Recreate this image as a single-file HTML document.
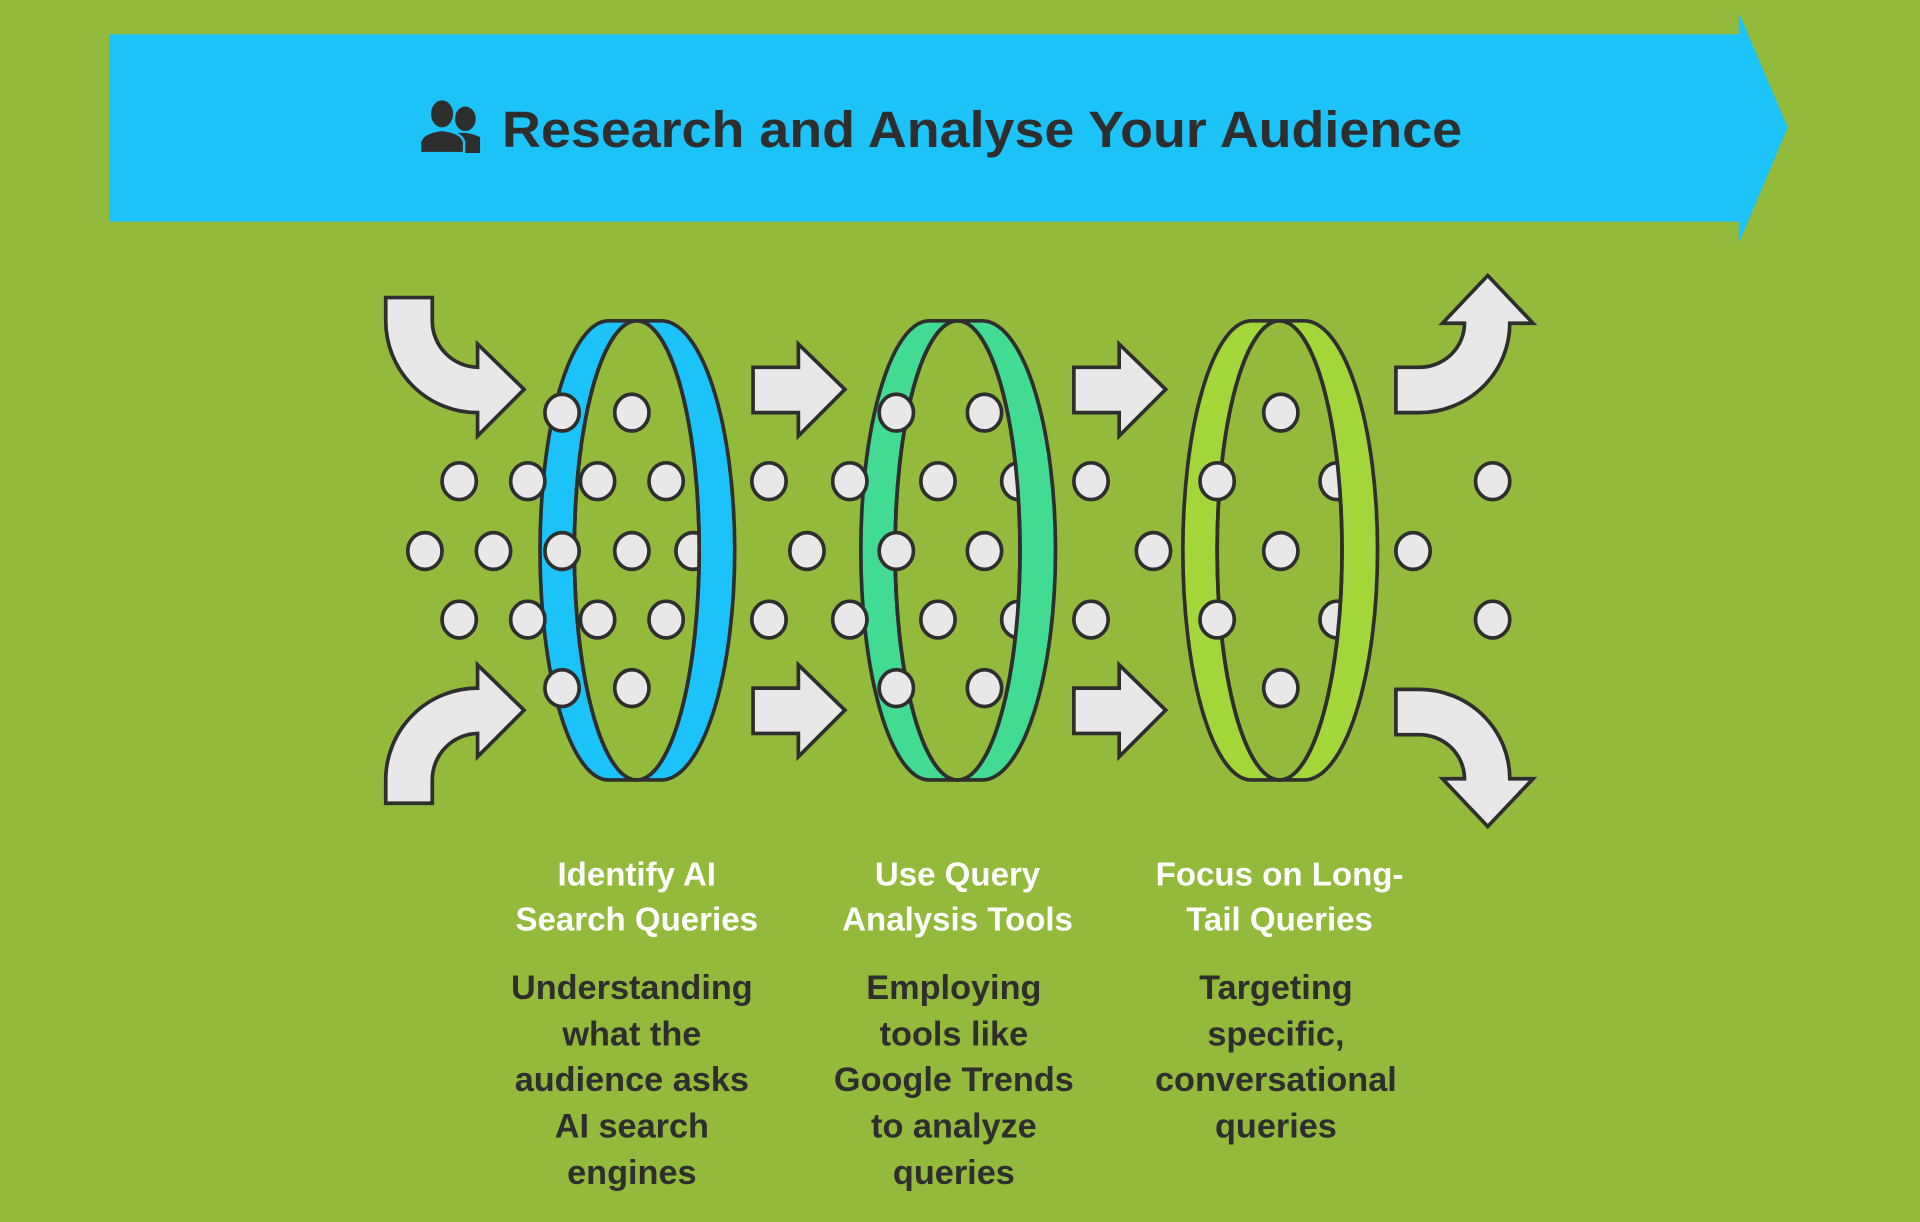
<!DOCTYPE html>
<html><head><meta charset="utf-8"><style>
html,body{margin:0;padding:0;background:#93BA3A;}
svg{display:block;}
text{font-family:"Liberation Sans",Arial,sans-serif;font-weight:bold;}
</style></head><body>
<svg width="1920" height="1222" viewBox="0 0 1568 998" xmlns="http://www.w3.org/2000/svg">
<defs>
<clipPath id="h1"><ellipse cx="520" cy="449.5" rx="51" ry="187.5"/></clipPath>
<clipPath id="h2"><ellipse cx="782" cy="449.5" rx="51" ry="187.5"/></clipPath>
<clipPath id="h3"><ellipse cx="1045" cy="449.5" rx="51" ry="187.5"/></clipPath>
</defs>
<rect width="1568" height="998" fill="#93BA3A"/>
<polygon points="89,28 1420,28 1420,10 1460,104 1420,199 1420,181 89,181" fill="#1BC3F9"/>
<g fill="#2E2E2E">
<ellipse cx="380" cy="97" rx="8.5" ry="10"/>
<path d="M368,110 Q380,106 392,112 L392,125 L372,125 Z"/>
<ellipse cx="361" cy="93" rx="10" ry="12" stroke="#1BC3F9" stroke-width="2"/>
<path d="M343,125 L343,116 Q345,108 361,106 Q377,108 379,116 L379,125 Z" stroke="#1BC3F9" stroke-width="2"/>
</g>
<text x="410" y="120" font-size="42" fill="#2E2E2E" textLength="784" lengthAdjust="spacingAndGlyphs">Research and Analyse Your Audience</text>

<g stroke="#2E2E2E" stroke-width="3">
<path d="M497,262 L540,262 A60,187.5 0 0 1 540,637 L497,637 A56,187.5 0 0 1 497,262 Z" fill="#1BC3F9"/>
<ellipse cx="520" cy="449.5" rx="51" ry="187.5" fill="#93BA3A"/>
<path d="M759,262 L802,262 A60,187.5 0 0 1 802,637 L759,637 A56,187.5 0 0 1 759,262 Z" fill="#41DB93"/>
<ellipse cx="782" cy="449.5" rx="51" ry="187.5" fill="#93BA3A"/>
<path d="M1022,262 L1065,262 A60,187.5 0 0 1 1065,637 L1022,637 A56,187.5 0 0 1 1022,262 Z" fill="#A3D639"/>
<ellipse cx="1045" cy="449.5" rx="51" ry="187.5" fill="#93BA3A"/>
</g>

<g fill="#E8E8E8" stroke="#2E2E2E" stroke-width="3">
<ellipse cx="566" cy="450" rx="14" ry="15" clip-path="url(#h1)"/>
<ellipse cx="832" cy="393" rx="14" ry="15" clip-path="url(#h2)"/>
<ellipse cx="832" cy="506" rx="14" ry="15" clip-path="url(#h2)"/>
<ellipse cx="1092" cy="393" rx="14" ry="15" clip-path="url(#h3)"/>
<ellipse cx="1092" cy="506" rx="14" ry="15" clip-path="url(#h3)"/>
</g>
<g fill="none" stroke="#2E2E2E" stroke-width="3">
<ellipse cx="520" cy="449.5" rx="51" ry="187.5"/>
<ellipse cx="782" cy="449.5" rx="51" ry="187.5"/>
<ellipse cx="1045" cy="449.5" rx="51" ry="187.5"/>
</g>

<g fill="#E8E8E8" stroke="#2E2E2E" stroke-width="3" stroke-linejoin="miter">
<path d="M315,243 L353,243 L353,262 A38,38 0 0 0 390,300 L390,281 L428,318 L390,356 L390,337 A75,75 0 0 1 315,262 Z"/>
<path d="M315,656 L353,656 L353,637 A38,38 0 0 1 390,599 L390,618 L428,580 L390,543 L390,562 A75,75 0 0 0 315,637 Z"/>
<path d="M615,300 L652,300 L652,281 L690,318 L652,356 L652,337 L615,337 Z"/>
<path d="M615,562 L652,562 L652,543 L690,580 L652,618 L652,599 L615,599 Z"/>
<path d="M877,300 L914,300 L914,281 L952,318 L914,356 L914,337 L877,337 Z"/>
<path d="M877,562 L914,562 L914,543 L952,580 L914,618 L914,599 L877,599 Z"/>
<path d="M1140,337 L1159,337 A74,73 0 0 0 1233,264 L1252,264 L1215,225 L1178,264 L1196,264 A37,36 0 0 1 1159,300 L1140,300 Z"/>
<path d="M1140,563 L1159,563 A74,73 0 0 1 1233,636 L1252,636 L1215,675 L1178,636 L1196,636 A37,36 0 0 0 1159,600 L1140,600 Z"/>
<ellipse cx="459" cy="337" rx="14" ry="15"/><ellipse cx="516" cy="337" rx="14" ry="15"/>
<ellipse cx="732" cy="337" rx="14" ry="15"/><ellipse cx="804" cy="337" rx="14" ry="15"/>
<ellipse cx="1046" cy="337" rx="14" ry="15"/>
<ellipse cx="459" cy="562" rx="14" ry="15"/><ellipse cx="516" cy="562" rx="14" ry="15"/>
<ellipse cx="732" cy="562" rx="14" ry="15"/><ellipse cx="804" cy="562" rx="14" ry="15"/>
<ellipse cx="1046" cy="562" rx="14" ry="15"/>
<g id="r2">
<ellipse cx="375" cy="393" rx="14" ry="15"/><ellipse cx="431" cy="393" rx="14" ry="15"/>
<ellipse cx="488" cy="393" rx="14" ry="15"/><ellipse cx="544" cy="393" rx="14" ry="15"/>
<ellipse cx="628" cy="393" rx="14" ry="15"/><ellipse cx="694" cy="393" rx="14" ry="15"/>
<ellipse cx="766" cy="393" rx="14" ry="15"/><ellipse cx="891" cy="393" rx="14" ry="15"/>
<ellipse cx="994" cy="393" rx="14" ry="15"/><ellipse cx="1219" cy="393" rx="14" ry="15"/>
</g>
<use href="#r2" y="113"/>
<ellipse cx="347" cy="450" rx="14" ry="15"/><ellipse cx="403" cy="450" rx="14" ry="15"/>
<ellipse cx="459" cy="450" rx="14" ry="15"/><ellipse cx="516" cy="450" rx="14" ry="15"/>
<ellipse cx="659" cy="450" rx="14" ry="15"/><ellipse cx="732" cy="450" rx="14" ry="15"/>
<ellipse cx="804" cy="450" rx="14" ry="15"/><ellipse cx="942" cy="450" rx="14" ry="15"/>
<ellipse cx="1046" cy="450" rx="14" ry="15"/><ellipse cx="1154" cy="450" rx="14" ry="15"/>
</g>

<g font-size="27" text-anchor="middle" fill="#FFFFFF">
<text x="520" y="723">Identify AI</text>
<text x="520" y="760">Search Queries</text>
<text x="782" y="723">Use Query</text>
<text x="782" y="760">Analysis Tools</text>
<text x="1045" y="723">Focus on Long-</text>
<text x="1045" y="760">Tail Queries</text>
</g>
<g font-size="28" text-anchor="middle" fill="#2E2E2E">
<text x="516" y="816">Understanding</text>
<text x="516" y="854">what the</text>
<text x="516" y="891">audience asks</text>
<text x="516" y="929">AI search</text>
<text x="516" y="967">engines</text>
<text x="779" y="816">Employing</text>
<text x="779" y="854">tools like</text>
<text x="779" y="891">Google Trends</text>
<text x="779" y="929">to analyze</text>
<text x="779" y="967">queries</text>
<text x="1042" y="816">Targeting</text>
<text x="1042" y="854">specific,</text>
<text x="1042" y="891">conversational</text>
<text x="1042" y="929">queries</text>
</g>
</svg>
</body></html>
